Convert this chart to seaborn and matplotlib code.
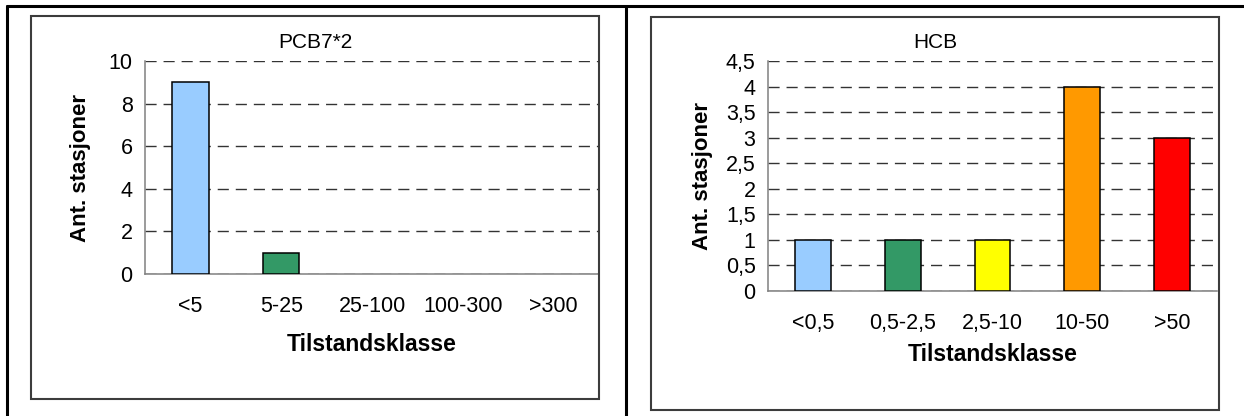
import numpy as np
import pandas as pd
import seaborn as sns
import matplotlib.pyplot as plt
from matplotlib.patches import Rectangle
from matplotlib.lines import Line2D
from matplotlib.ticker import FuncFormatter

# data
pcb_classes = ["<5", "5-25", "25-100", "100-300", ">300"]
pcb_counts = [9, 1, 0, 0, 0]
hcb_classes = ["<0,5", "0,5-2,5", "2,5-10", "10-50", ">50"]
hcb_counts = [1, 1, 1, 4, 3]
class_colors = ["#99CCFF", "#339966", "#FFFF00", "#FF9900", "#FF0000"]

sns.set_style("white")
plt.rcParams['font.family'] = ['Liberation Sans', 'DejaVu Sans']
plt.rcParams['text.color'] = 'black'
plt.rcParams['axes.labelcolor'] = 'black'

W, H = 1244, 416
fig = plt.figure(figsize=(W / 100, H / 100), dpi=100)


def px_axes(x0, y0, x1, y1):
    return fig.add_axes([x0 / W, 1 - y1 / H, (x1 - x0) / W, (y1 - y0) / H])


def draw_panel(ax, cats, vals, ymax, ystep, fmt, ylab_x, xlab_y):
    df = pd.DataFrame({'klasse': cats, 'antall': vals})
    sns.barplot(data=df, x='klasse', y='antall', hue='klasse', palette=class_colors,
                saturation=1, legend=False, width=0.4, edgecolor='black', linewidth=1.1,
                ax=ax, zorder=3)
    # tomme klasser: ingen kant
    for p in ax.patches:
        if p.get_height() == 0:
            p.set_linewidth(0)
    ax.set_xlim(-0.5, 4.5)
    ax.set_ylim(0, ymax)
    ax.set_yticks(np.arange(0, ymax + ystep / 2, ystep))
    ax.yaxis.set_major_formatter(FuncFormatter(fmt))
    ax.set_xticks(np.arange(-0.5, 5, 1), minor=True)
    ax.tick_params(axis='x', which='major', length=0, pad=16, labelsize=15.5, labelcolor='black')
    ax.tick_params(axis='x', which='minor', length=4, width=1, color='#808080', direction='out')
    ax.tick_params(axis='y', length=4, width=1, color='#808080', direction='out', pad=5,
                   labelsize=15.5, labelcolor='black')
    ax.yaxis.grid(True, linestyle=(0, (8, 5)), color='#333333', lw=1)
    ax.set_axisbelow(True)
    for s in ['top', 'right']:
        ax.spines[s].set_visible(False)
    for s in ['left', 'bottom']:
        ax.spines[s].set_color('#808080')
        ax.spines[s].set_linewidth(1.1)
    ax.set_ylabel('Ant. stasjoner', fontsize=16, fontweight='bold')
    ax.set_xlabel('Tilstandsklasse', fontsize=16.5, fontweight='bold')
    ax.yaxis.set_label_coords(ylab_x, 0.5)
    ax.xaxis.set_label_coords(0.5, xlab_y)
    ax.xaxis.label.set_verticalalignment('center')
    ax.yaxis.label.set_verticalalignment('center')
    ax.set_facecolor('none')


# outer table lines
for xs, ys in [((7, W), (6, 6)), ((7, 7), (6, H)), ((626, 626), (6, H))]:
    fig.add_artist(Line2D([x / W for x in xs], [1 - y / H for y in ys], color='black', lw=2.2))

# chart frames
for x0, y0, x1, y1 in [(31, 16, 599, 399), (651, 17, 1219, 410)]:
    fig.add_artist(Rectangle((x0 / W, 1 - y1 / H), (x1 - x0) / W, (y1 - y0) / H,
                             fill=False, edgecolor='#3c3c3c', lw=1.5))

ax1 = px_axes(145, 61, 599, 274)
draw_panel(ax1, pcb_classes, pcb_counts, 10, 2, lambda v, p: f"{v:g}", -0.141, -0.333)
fig.text(315 / W, 1 - 42 / H, 'PCB7*2', ha='center', va='center', fontsize=15)

ax2 = px_axes(768, 61, 1217, 291)
draw_panel(ax2, hcb_classes, hcb_counts, 4.5, 0.5,
           lambda v, p: f"{v:g}".replace('.', ','), -0.145, -0.278)
fig.text(935 / W, 1 - 42 / H, 'HCB', ha='center', va='center', fontsize=15)

plt.savefig('out.png', dpi=100)
